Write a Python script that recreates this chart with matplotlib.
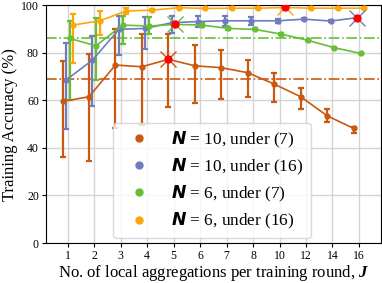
import numpy as np
import matplotlib
matplotlib.use("Agg")
import matplotlib.pyplot as plt

plt.rcParams['font.family'] = ['Liberation Serif', 'DejaVu Serif']
plt.rcParams['mathtext.fontset'] = 'custom'
plt.rcParams['mathtext.rm'] = 'Liberation Serif'
plt.rcParams['mathtext.bfit'] = 'DejaVu Sans:italic:bold'
plt.rcParams['mathtext.bf'] = 'Liberation Serif:italic:bold'

categories = ["1", "2", "3", "4", "5", "6", "7", "8", "10", "12", "14", "16"]

labels = [r"$\boldsymbol{N}$ = 10, under (7)",
          r"$\boldsymbol{N}$ = 10, under (16)",
          r"$\boldsymbol{N}$ = 6, under (7)",
          r"$\boldsymbol{N}$ = 6, under (16)"]
colors = ["#c9590f", "#6f7dbf", "#67bf36", "#ffa50a"]

a_mean = [59.5, 61.5, 74.8, 74.1, 77.2, 74.5, 73.7, 71.6, 66.8, 61.5, 53.5, 48.2]
a_upper = [76.6, 79.3, 89.9, 87.7, 87.8, 83.2, 81.1, 76.9, 71.6, 65.0, 56.2, 48.9]
a_lower = [36.0, 34.5, 48.5, 49.7, 57.3, 59.0, 60.6, 61.5, 59.4, 56.4, 50.8, 46.1]

b_mean = [68.5, 76.9, 89.8, 90.2, 92.6, 93.1, 93.4, 93.4, 93.4, 94.1, 93.3, 94.7]
b_upper = [83.9, 87.0, 95.5, 94.8, 95.4, 95.5, 95.4, 94.8, 94.3, 94.6, 93.7, 95.0]
b_lower = [48.0, 57.6, 79.0, 81.4, 88.1, 90.9, 91.2, 91.6, 92.5, 93.6, 92.9, 94.4]

c_mean = [86.0, 82.9, 91.6, 91.2, 91.9, 91.6, 90.2, 89.8, 87.8, 85.2, 82.1, 79.7]
c_upper = [93.4, 94.4, 95.4, 94.8, 92.5, 92.6, 90.7, 90.2, 88.1, 85.5, 82.4, 80.0]
c_lower = [60.0, 68.5, 83.5, 87.7, 91.3, 90.6, 89.7, 89.4, 87.5, 84.9, 81.8, 79.4]

d_mean = [91.6, 93.4, 97.5, 97.9, 98.9, 98.6, 98.7, 98.7, 99.0, 98.7, 98.7, 98.7]
d_upper = [96.2, 97.6, 98.6, 98.4, 99.2, 98.9, 99.0, 99.0, 99.3, 99.0, 99.0, 99.0]
d_lower = [75.5, 87.4, 96.2, 97.4, 98.6, 98.3, 98.4, 98.4, 98.7, 98.4, 98.4, 98.4]

baseline_values = [68.8, 86.0]
baseline_colors = [colors[0], colors[2]]

series = [(a_mean, a_lower, a_upper), (b_mean, b_lower, b_upper),
          (c_mean, c_lower, c_upper), (d_mean, d_lower, d_upper)]
offsets = [-0.2, -0.067, 0.067, 0.2]

fig = plt.figure(figsize=(3.82, 2.83), dpi=100)
ax = fig.add_axes([0.120, 0.141, 0.877, 0.841])

x = np.arange(len(categories))
for (m, lo, up), off, col, lab in zip(series, offsets, colors, labels):
    m = np.array(m); lo = np.array(lo); up = np.array(up)
    xs = x + off
    ax.errorbar(xs, m, yerr=[m - lo, up - m], fmt='none', ecolor=col,
                elinewidth=1.6, capsize=2.0, capthick=1.6, zorder=3)
    ax.plot(xs, m, '-', color=col, lw=1.2, zorder=4)
    ax.plot(xs, m, 'o', color=col, ms=3.5, zorder=4)
    ax.plot([], [], 'o', color=col, ms=5, label=lab, linestyle='none')
    bi = int(np.argmax(m))
    ax.plot(xs[bi], m[bi], 'x', color=col, ms=12, mew=1.0, zorder=5)
    ax.plot(xs[bi], m[bi], 'o', color='red', ms=5, zorder=6)

for v, c in zip(baseline_values, baseline_colors):
    ax.axhline(v, color=c, lw=1.2, ls='-.', zorder=2)

ax.set_xticks(x)
ax.set_xticklabels(categories)
ax.set_xlim(-0.83, 11.83)
ax.set_ylim(0, 100)
ax.set_yticks([0, 20, 40, 60, 80, 100])
ax.grid(True, color='#d4d4d4', lw=1.0, zorder=0)
ax.set_axisbelow(True)
ax.tick_params(labelsize=8.5, length=3, pad=2)
ax.set_xlabel(r"No. of local aggregations per training round, $\mathbf{J}$",
              fontsize=12, labelpad=1)
ax.set_ylabel("Training Accuracy (%)", fontsize=12, labelpad=2)

leg = ax.legend(loc='lower left', bbox_to_anchor=(0.2, 0.021), borderaxespad=0,
                fontsize=12.4, labelspacing=0.4, handlelength=2.2,
                handletextpad=0.8, framealpha=0.8, edgecolor='#d0d0d0',
                fancybox=True)

fig.savefig("out.png", dpi=100)
